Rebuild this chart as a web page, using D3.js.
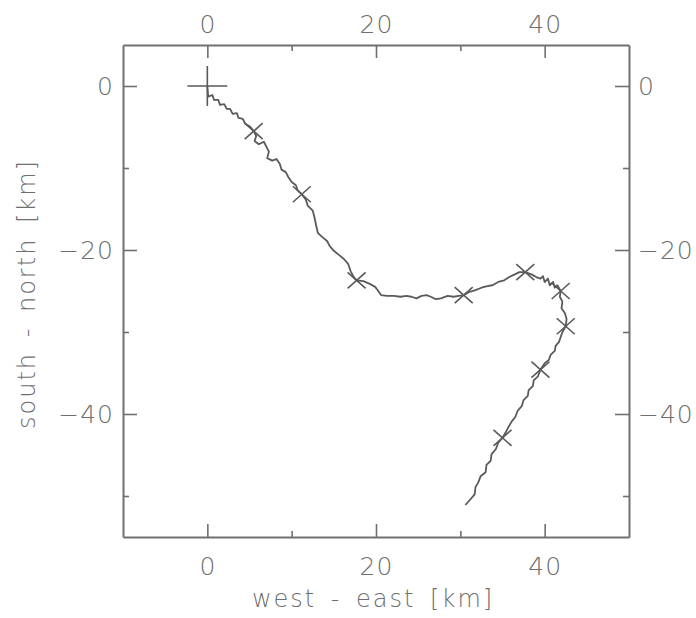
<!DOCTYPE html>
<html>
<head>
<meta charset="utf-8">
<script src="https://cdn.jsdelivr.net/npm/d3@7"></script>
<style>
  html, body { margin: 0; padding: 0; background: #ffffff; }
  svg { display: block; }
  .axis text { font-family: "DejaVu Sans", sans-serif; font-weight: 200; fill: #6e6e6e; }
  .axis path, .axis line { stroke: #707070; }
  .title { font-family: "DejaVu Sans", sans-serif; font-weight: 200; fill: #6e6e6e; }
</style>
</head>
<body>
<svg id="chart" width="696" height="618"></svg>
<script>
// ---- data (km) ----
const xDomain = [-10, 50];
const yDomain = [-55, 5];
const xMajorTicks = [0, 20, 40];
const xMinorTicks = [10, 30];
const yMajorTicks = [0, -20, -40];
const yMinorTicks = [-10, -30, -50];
const xLabel = "west - east [km]";
const yLabel = "south - north [km]";

// track: west-east (km)
const trackX = [
  0, 0.1, 0.6, 0.8, 1.3, 1.5, 2.0, 2.3, 2.7, 3.0, 3.5, 3.7, 4.2, 4.5, 5.0, 5.5,
  5.8, 5.6, 6.1, 6.7, 7.0, 7.3, 7.1, 7.7, 8.2, 8.6, 8.8, 9.3, 9.6, 10.0, 10.5, 10.7, 11.2,
  11.7, 11.9, 12.5, 12.7, 12.9, 13.1, 13.6, 14.2, 14.5, 15.0, 15.6, 16.2, 16.7, 17.0, 17.3, 17.7,
  18.5, 19.2, 19.9, 20.2, 20.6, 21.3, 22.1, 22.9, 23.6, 24.2, 24.8, 25.4, 26.0, 26.5, 27.1, 27.7, 28.5, 29.2, 29.8, 30.4,
  31.1, 31.8, 32.5, 33.2, 33.8, 34.5, 35.2, 35.8, 36.4, 37.0, 37.7,
  38.5, 39.0, 39.5, 39.8, 40.0, 40.4, 40.6, 41.0, 41.2, 41.5, 41.9,
  41.8, 42.1, 42.0, 42.4, 42.6, 42.5,
  42.1, 41.9, 41.7, 41.3, 41.2, 40.7, 40.5, 40.0, 39.5,
  39.2, 38.7, 38.6, 38.1, 38.0, 37.5, 37.3, 36.8, 36.5, 36.1, 35.7, 35.4, 35.0,
  34.5, 34.2, 33.7, 33.6, 33.1, 33.0, 32.4, 32.1, 31.8, 31.7, 31.2, 30.6
];
// track: south-north (km)
const trackY = [
  0, -1.3, -1.1, -1.7, -1.7, -2.3, -2.2, -2.8, -2.8, -3.4, -3.3, -3.9, -4.0, -4.6, -4.9, -5.5,
  -6.1, -6.7, -7.1, -6.8, -7.4, -8.0, -8.8, -9.1, -8.9, -9.5, -10.2, -10.5, -11.1, -11.7, -12.1, -12.7, -13.2,
  -13.9, -14.6, -15.2, -16.0, -17.0, -17.9, -18.4, -18.9, -19.5, -20.1, -20.6, -21.1, -21.7, -22.6, -23.2, -23.7,
  -23.8, -24.1, -24.5, -24.9, -25.5, -25.6, -25.6, -25.7, -25.6, -25.7, -25.9, -25.6, -25.5, -25.7, -26.0, -25.9, -25.6, -25.7, -25.6, -25.5,
  -25.1, -24.9, -24.6, -24.4, -24.3, -23.9, -23.7, -23.3, -23.0, -22.7, -22.7,
  -23.0, -23.3, -23.5, -23.2, -23.9, -23.5, -24.3, -23.9, -24.6, -24.3, -25.0,
  -25.7, -26.3, -27.1, -27.7, -28.4, -29.3,
  -30.0, -30.6, -31.2, -31.7, -32.3, -32.8, -33.4, -33.8, -34.6,
  -35.4, -35.9, -36.6, -37.1, -37.8, -38.3, -39.0, -39.6, -40.4, -40.9, -41.6, -42.2, -42.9,
  -43.5, -44.3, -44.9, -45.7, -46.2, -47.1, -47.6, -48.4, -48.9, -49.8, -50.4, -51.1
];
// cross markers along the track
const markX = [5.5, 11.2, 17.7, 30.4, 37.7, 41.9, 42.5, 39.5, 35.0];
const markY = [-5.5, -13.2, -23.7, -25.5, -22.7, -25.0, -29.3, -34.6, -42.9];
// start position (plus)
const startX = [0];
const startY = [0];

// ---- drawing ----
const svg = d3.select("#chart");
const mLeft = 123, mRight = 629, mTop = 45, mBottom = 537;
const x = d3.scaleLinear().domain(xDomain).range([mLeft, mRight]);
const y = d3.scaleLinear().domain(yDomain).range([mBottom, mTop]);

const FS = 25;
const axisStroke = 2;

function styleAxis(g) {
  g.selectAll("path.domain").attr("stroke-width", axisStroke);
  g.selectAll("line").attr("stroke-width", 1.6);
  g.selectAll("text").style("font-size", FS + "px").style("letter-spacing", "1px");
}

// bottom
svg.append("g").attr("class", "axis").attr("transform", `translate(0,${mBottom})`)
  .call(d3.axisBottom(x).tickValues(xMajorTicks).tickSizeInner(-13).tickSizeOuter(0).tickPadding(20).tickFormat(d3.format("d")))
  .call(styleAxis);
svg.append("g").attr("class", "axis").attr("transform", `translate(0,${mBottom})`)
  .call(d3.axisBottom(x).tickValues(xMinorTicks).tickSizeInner(-6).tickSizeOuter(0).tickFormat(""))
  .call(g => g.select("path.domain").remove()).call(styleAxis);
// top
svg.append("g").attr("class", "axis").attr("transform", `translate(0,${mTop})`)
  .call(d3.axisTop(x).tickValues(xMajorTicks).tickSizeInner(-13).tickSizeOuter(0).tickPadding(12).tickFormat(d3.format("d")))
  .call(styleAxis);
svg.append("g").attr("class", "axis").attr("transform", `translate(0,${mTop})`)
  .call(d3.axisTop(x).tickValues(xMinorTicks).tickSizeInner(-6).tickSizeOuter(0).tickFormat(""))
  .call(g => g.select("path.domain").remove()).call(styleAxis);
// left
const fmtY = d => d3.format("d")(d).replace("-", "\u2212");
svg.append("g").attr("class", "axis").attr("transform", `translate(${mLeft},0)`)
  .call(d3.axisLeft(y).tickValues(yMajorTicks).tickSizeInner(-14).tickSizeOuter(0).tickPadding(9).tickFormat(fmtY))
  .call(styleAxis);
svg.append("g").attr("class", "axis").attr("transform", `translate(${mLeft},0)`)
  .call(d3.axisLeft(y).tickValues(yMinorTicks).tickSizeInner(-6).tickSizeOuter(0).tickFormat(""))
  .call(g => g.select("path.domain").remove()).call(styleAxis);
// right
svg.append("g").attr("class", "axis").attr("transform", `translate(${mRight},0)`)
  .call(d3.axisRight(y).tickValues(yMajorTicks).tickSizeInner(-14).tickSizeOuter(0).tickPadding(9).tickFormat(fmtY))
  .call(styleAxis);
svg.append("g").attr("class", "axis").attr("transform", `translate(${mRight},0)`)
  .call(d3.axisRight(y).tickValues(yMinorTicks).tickSizeInner(-6).tickSizeOuter(0).tickFormat(""))
  .call(g => g.select("path.domain").remove()).call(styleAxis);

// titles
svg.append("text").attr("class", "title")
  .attr("x", 373).attr("y", 607)
  .attr("text-anchor", "middle").style("font-size", "24px")
  .style("letter-spacing", "2px").style("word-spacing", "5px")
  .text(xLabel);
svg.append("text").attr("class", "title")
  .attr("transform", `translate(35,294) rotate(-90)`)
  .attr("text-anchor", "middle").style("font-size", "24px")
  .style("letter-spacing", "2px").style("word-spacing", "5px")
  .text(yLabel);

// track
const track = trackX.map((d, i) => [d, trackY[i]]);
svg.append("path")
  .datum(track)
  .attr("fill", "none")
  .attr("stroke", "#5a5a5a")
  .attr("stroke-width", 1.8)
  .attr("stroke-linejoin", "round")
  .attr("d", d3.line().x(d => x(d[0])).y(d => y(d[1])));

// markers
const marks = markX.map((d, i) => [d, markY[i]]);
svg.append("g").selectAll("path").data(marks).join("path")
  .attr("transform", d => `translate(${x(d[0])},${y(d[1])})`)
  .attr("d", "M-9,-8L9,8M-9,8L9,-8")
  .attr("fill", "none").attr("stroke", "#5a5a5a").attr("stroke-width", 1.6);

const starts = startX.map((d, i) => [d, startY[i]]);
svg.append("g").selectAll("path").data(starts).join("path")
  .attr("transform", d => `translate(${x(d[0])},${y(d[1])})`)
  .attr("d", "M-20,0H20M0,-20V20")
  .attr("fill", "none").attr("stroke", "#5a5a5a").attr("stroke-width", 1.6);
</script>
</body>
</html>
